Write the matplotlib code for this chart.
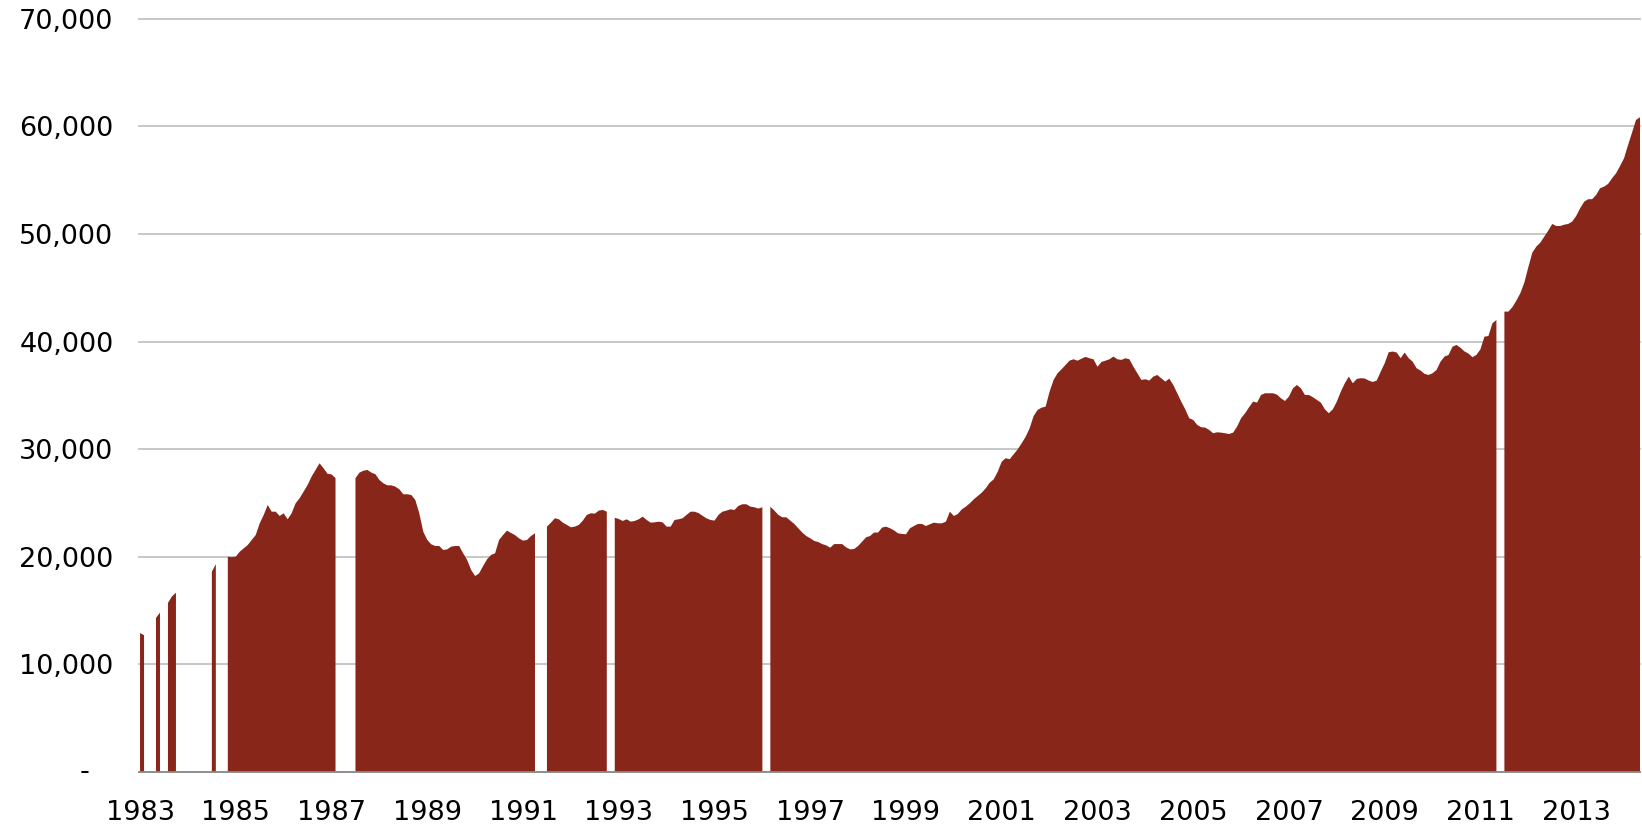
import numpy as np
import matplotlib
matplotlib.use('Agg')
import matplotlib.pyplot as plt
from matplotlib.ticker import FuncFormatter

nan = np.nan

# monthly values, Jan 1983 onwards (nan = no data for that month)
values_1983_1989 = [
	12900, 12700, nan, nan, 14300, 14800, nan, 15700, 16300, 16650, nan, nan,
	nan, nan, nan, nan, nan, nan, 18600, 19300, nan, nan, 20000, 19950,
	20000, 20460, 20770, 21080, 21550, 22010, 23100, 23870, 24800, 24180, 24180, 23780,
	24030, 23470, 24030, 24960, 25430, 26040, 26660, 27440, 28060, 28680, 28220, 27700,
	27650, 27300, nan, nan, nan, nan, 27290, 27810, 27990, 28060, 27810, 27660,
	27130, 26820, 26630, 26630, 26510, 26260, 25800, 25800, 25730, 25270, 24030, 22320,
	21550, 21150, 20990, 20990, 20620, 20680, 20930, 20990, 20990, 20310, 19690, 18760,
]
values_1990_1999 = [
	18200, 18450, 19130, 19760, 20160, 20310, 21550, 22010, 22420, 22200, 22000, 21700,
	21490, 21550, 21920, 22170, nan, nan, 22790, 23160, 23570, 23470, 23160, 22950,
	22730, 22790, 22950, 23350, 23880, 24030, 24000, 24280, 24340, 24180, nan, 23620,
	23500, 23320, 23470, 23250, 23320, 23470, 23720, 23410, 23160, 23190, 23250, 23190,
	22790, 22790, 23410, 23470, 23570, 23880, 24180, 24180, 24050, 23800, 23560, 23410,
	23350, 23880, 24180, 24280, 24400, 24340, 24720, 24870, 24870, 24650, 24590, 24470,
	24590, nan, 24650, 24280, 23880, 23660, 23660, 23350, 23040, 22640, 22240, 21920,
	21710, 21460, 21360, 21170, 21050, 20830, 21170, 21170, 21170, 20860, 20680, 20710,
	20990, 21390, 21800, 21920, 22240, 22240, 22700, 22790, 22640, 22440, 22170, 22110,
	22080, 22640, 22850, 23040, 23040, 22850, 23010, 23160, 23100, 23100, 23250, 24180,
]
values_2000_2009 = [
	23780, 23970, 24400, 24650, 24960, 25330, 25640, 25950, 26360, 26880, 27190, 27900,
	28830, 29150, 29060, 29520, 29980, 30540, 31150, 31940, 33080, 33640, 33850, 33950,
	35340, 36430, 37050, 37420, 37820, 38220, 38350, 38220, 38400, 38570, 38440, 38350,
	37650, 38100, 38220, 38350, 38600, 38350, 38290, 38440, 38350, 37660, 37050, 36430,
	36490, 36370, 36740, 36890, 36580, 36270, 36550, 35960, 35190, 34410, 33700, 32870,
	32710, 32250, 32030, 32000, 31780, 31470, 31560, 31530, 31470, 31400, 31530, 32090,
	32870, 33330, 33890, 34410, 34320, 35030, 35190, 35190, 35190, 35060, 34720, 34470,
	34880, 35650, 35960, 35650, 35030, 35030, 34820, 34570, 34320, 33700, 33330, 33700,
	34410, 35340, 36120, 36740, 36120, 36520, 36590, 36560, 36370, 36240, 36370, 37200,
	37980, 39000, 39070, 38980, 38450, 38980, 38450, 38130, 37510, 37300, 36990, 36890,
]
values_2010_2014 = [
	37050, 37360, 38130, 38600, 38750, 39520, 39680, 39420, 39080, 38880, 38540, 38760,
	39280, 40450, 40510, 41700, 42000, nan, 42780, 42780, 43190, 43800, 44490, 45480,
	46910, 48260, 48820, 49190, 49750, 50310, 50930, 50740, 50740, 50860, 50930, 51150,
	51670, 52390, 53000, 53230, 53230, 53630, 54250, 54400, 54650, 55180, 55640, 56320,
	57040, 58270, 59420, 60600, 60850,
]

first_year = 1983
year_labels = ['1983', '1985', '1987', '1989', '1991', '1993', '1995', '1997',
	'1999', '2001', '2003', '2005', '2007', '2009', '2011', '2013']
y_ticks = [0, 10000, 20000, 30000, 40000, 50000, 60000, 70000]


def yfmt(v, pos):
	if v == 0:
		return ''
	return '{:,.0f}'.format(v)


def main():
	matplotlib.rcParams.update({'font.size': 19.5, 'font.family': 'DejaVu Sans'})

	values = np.array(values_1983_1989 + values_1990_1999 + values_2000_2009 + values_2010_2014, dtype=float)
	months = np.arange(len(values))

	fig = plt.figure(figsize=(16.42, 8.25), dpi=100)
	ax = fig.add_axes([0.0848, 0.0645, 0.9140, 0.9127])

	ax.fill_between(months, values, 0, color='#872619', linewidth=0, zorder=2)

	ax.set_xlim(-0.2, months[-1])
	ax.set_ylim(0, 70000)

	tick_pos = [(int(y) - first_year) * 12 for y in year_labels]
	ax.set_xticks(tick_pos)
	ax.set_xticklabels(year_labels)
	ax.set_yticks(y_ticks)
	ax.yaxis.set_major_formatter(FuncFormatter(yfmt))
	ax.tick_params(axis='both', length=0)
	ax.tick_params(axis='y', pad=18.5)
	ax.tick_params(axis='x', pad=20)

	# zero label drawn as a dash, like the accounting number format
	ax.text(-0.0363, 0, '-', transform=ax.get_yaxis_transform(), ha='center', va='center', fontsize=19.5)

	ax.set_axisbelow(True)
	ax.yaxis.grid(True, color='#c3c3c3', linewidth=1.3)
	for line in ax.get_ygridlines():
		line.set_clip_on(False)

	for side in ['left', 'right', 'top']:
		ax.spines[side].set_visible(False)
	ax.spines['bottom'].set_color('#8a8a8a')
	ax.spines['bottom'].set_linewidth(1.3)
	ax.spines['bottom'].set_zorder(3)

	fig.savefig('out.png', dpi=100)


main()
